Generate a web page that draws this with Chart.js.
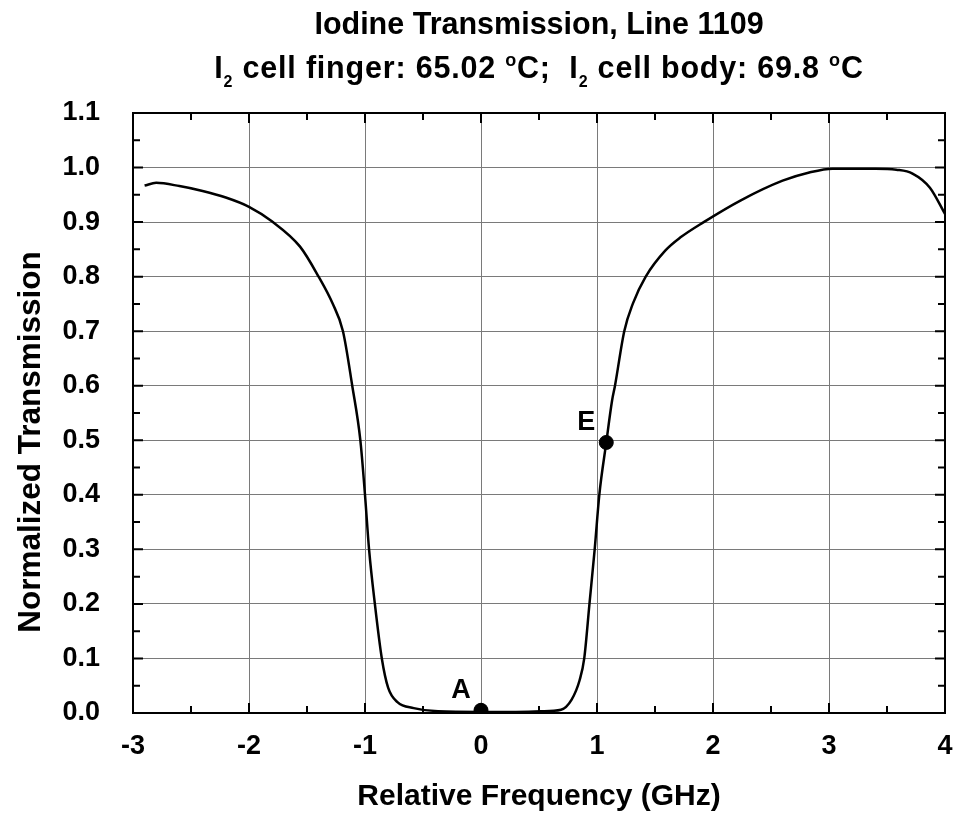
<!DOCTYPE html>
<html>
<head>
<meta charset="utf-8">
<title>Iodine Transmission, Line 1109</title>
<script src="https://cdn.jsdelivr.net/npm/chart.js@4.4.0/dist/chart.umd.min.js"></script>
<style>
  html, body { margin: 0; padding: 0; background: #fff; }
  canvas { display: block; }
</style>
</head>
<body>
<canvas id="iodineChart" width="954" height="815"></canvas>
<script>
// values (GHz vs normalized transmission)
const freqGHz = [-2.9, -2.8, -2.6, -2.4, -2.2, -2.0, -1.8, -1.56, -1.40, -1.28, -1.19, -1.11, -1.04, -1.0,
    -0.965, -0.915, -0.855, -0.80, -0.72, -0.58, -0.37, 0.0, 0.3, 0.52, 0.69, 0.78, 0.85, 0.89, 0.935, 0.98,
    1.02, 1.08, 1.13, 1.155, 1.235, 1.31, 1.42, 1.59, 1.72, 1.92, 2.24, 2.60, 2.83, 3.03, 3.40, 3.58, 3.72, 3.87, 4.0];
const transmission = [0.967, 0.972, 0.966, 0.957, 0.945, 0.928, 0.901, 0.855, 0.800, 0.751, 0.700, 0.600, 0.500, 0.400,
    0.300, 0.200, 0.100, 0.046, 0.020, 0.009, 0.003, 0.002, 0.002, 0.003, 0.006, 0.024, 0.060, 0.100, 0.200, 0.300,
    0.400, 0.496, 0.573, 0.600, 0.700, 0.751, 0.800, 0.848, 0.872, 0.900, 0.940, 0.976, 0.991, 0.998, 0.998, 0.996, 0.989, 0.963, 0.915];

// labelled points on the curve
const markerNames = ['A', 'E'];
const markerFreq = [0.0, 1.08];
const markerTrans = [0.005, 0.496];

const titleLine1 = 'Iodine Transmission, Line 1109';
const xTitle = 'Relative Frequency (GHz)';
const yTitle = 'Normalized Transmission';

const FONT = '"Liberation Sans", Arial, Helvetica, sans-serif';

// two line title, centred on the plot box, with I2 subscript and degree superscript
const titlePlugin = {
    id: 'twoLineTitle',
    afterDraw(chart) {
        const ctx = chart.ctx;
        const area = chart.chartArea;
        const cx = (area.left + area.right) / 2;
        const big = 'bold 30.5px ' + FONT;
        const sub = 'bold 16px ' + FONT;
        const sup = 'bold 18px ' + FONT;

        ctx.save();
        ctx.fillStyle = '#000';
        ctx.textBaseline = 'alphabetic';
        ctx.textAlign = 'center';
        ctx.font = big;
        ctx.fillText(titleLine1, cx, 34);

        const pieces = [
            ['I', big, 0], ['2', sub, 9], [' cell finger: 65.02 ', big, 0], ['o', sup, -12], ['C;  I', big, 0],
            ['2', sub, 9], [' cell body: 69.8 ', big, 0], ['o', sup, -12], ['C', big, 0]
        ];
        ctx.letterSpacing = '0.8px';
        let total = 0;
        pieces.forEach(p => { ctx.font = p[1]; total += ctx.measureText(p[0]).width; });
        let x = cx - total / 2;
        ctx.textAlign = 'left';
        pieces.forEach(p => {
            ctx.font = p[1];
            ctx.fillText(p[0], x, 78 + p[2]);
            x += ctx.measureText(p[0]).width;
        });
        ctx.letterSpacing = '0px';

        // y axis title, a bit below the box centre as in the original
        ctx.translate(31, 442);
        ctx.rotate(-Math.PI / 2);
        ctx.textAlign = 'center';
        ctx.textBaseline = 'middle';
        ctx.font = 'bold 31.5px ' + FONT;
        ctx.fillText(yTitle, 0, 0);
        ctx.restore();
    }
};

// box frame, inward major/minor ticks on all four sides, and the A / E letters
const framePlugin = {
    id: 'frameTicks',
    afterDatasetsDraw(chart) {
        const ctx = chart.ctx;
        const a = chart.chartArea;
        const xs = chart.scales.x, ys = chart.scales.y;
        ctx.save();
        ctx.strokeStyle = '#000';
        ctx.lineWidth = 2;
        ctx.beginPath();
        for (let v = xs.min; v <= xs.max + 1e-9; v += 0.5) {
            const px = xs.getPixelForValue(v);
            const len = Math.abs(v - Math.round(v)) < 1e-6 ? 10 : 7;
            ctx.moveTo(px, a.bottom); ctx.lineTo(px, a.bottom - len);
            ctx.moveTo(px, a.top); ctx.lineTo(px, a.top + len);
        }
        for (let i = 0; i <= 22; i++) {
            const v = i * 0.05;
            const py = ys.getPixelForValue(v);
            const len = i % 2 === 0 ? 10 : 7;
            ctx.moveTo(a.left, py); ctx.lineTo(a.left + len, py);
            ctx.moveTo(a.right, py); ctx.lineTo(a.right - len, py);
        }
        ctx.stroke();
        ctx.strokeRect(a.left, a.top, a.right - a.left, a.bottom - a.top);

        ctx.fillStyle = '#000';
        ctx.font = 'bold 27px ' + FONT;
        ctx.textAlign = 'center';
        ctx.textBaseline = 'middle';
        markerNames.forEach((name, i) => {
            const px = xs.getPixelForValue(markerFreq[i]);
            const py = ys.getPixelForValue(markerTrans[i]);
            ctx.fillText(name, px - 20, py - 20);
        });
        ctx.restore();
    }
};

const ctx = document.getElementById('iodineChart').getContext('2d');
new Chart(ctx, {
    type: 'scatter',
    data: {
        datasets: [{
            label: 'Transmission',
            data: freqGHz.map((f, i) => ({ x: f, y: transmission[i] })),
            showLine: true,
            borderColor: '#000',
            borderWidth: 2.5,
            pointRadius: 0,
            cubicInterpolationMode: 'monotone',
            order: 2
        }, {
            label: 'Markers',
            data: markerFreq.map((f, i) => ({ x: f, y: markerTrans[i] })),
            showLine: false,
            pointRadius: 7,
            pointBackgroundColor: '#000',
            pointBorderColor: '#000',
            order: 1
        }]
    },
    options: {
        responsive: false,
        animation: false,
        layout: { padding: { top: 113, right: 9, left: 0, bottom: 0 } },
        plugins: { legend: { display: false }, tooltip: { enabled: false }, title: { display: false } },
        scales: {
            x: {
                type: 'linear', min: -3, max: 4,
                afterFit: s => { s.height = 102; s.paddingLeft = 0; s.paddingRight = 0; },
                grid: { color: '#7a7a7a', lineWidth: 1, drawTicks: false },
                border: { display: false },
                ticks: { stepSize: 1, padding: 17, color: '#000', font: { family: FONT, size: 27, weight: 'bold' } },
                title: { display: true, text: xTitle, color: '#000', padding: 0, font: { family: FONT, size: 30, weight: 'bold' } }
            },
            y: {
                type: 'linear', min: 0, max: 1.1,
                afterFit: s => { s.width = 133; s.paddingTop = 0; s.paddingBottom = 0; },
                grid: { color: '#7a7a7a', lineWidth: 1, drawTicks: false },
                border: { display: false },
                ticks: { stepSize: 0.1, padding: 33, color: '#000', font: { family: FONT, size: 27, weight: 'bold' },
                    callback: v => v.toFixed(1) },
                title: { display: false }
            }
        }
    },
    plugins: [titlePlugin, framePlugin]
});
</script>
</body>
</html>
